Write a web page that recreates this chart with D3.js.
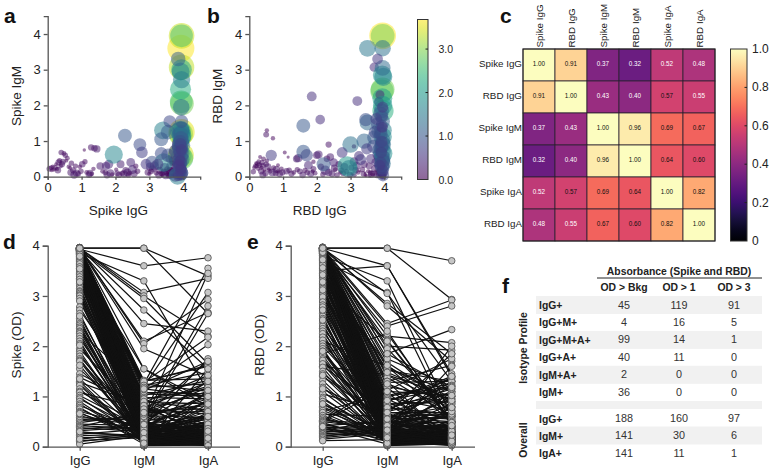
<!DOCTYPE html>
<html><head><meta charset="utf-8">
<script src="https://cdn.jsdelivr.net/npm/d3@7"></script>
<style>html,body{margin:0;padding:0;background:#fff}svg{display:block}text{font-family:"Liberation Sans",Arial,sans-serif;fill:#222}</style>
</head><body><svg id="c" width="772" height="475"></svg>
<script>
const spikeIgG=[3.95,3.95,3.93,3.85,3.95,3.95,3.92,3.95,3.92,3.94,
3.96,3.94,3.95,3.60,3.40,3.55,3.35,3.95,3.93,3.92,
3.95,3.93,3.90,3.96,3.94,3.92,3.95,3.91,3.96,3.93,
3.94,3.90,3.95,3.92,3.96,3.88,3.94,3.91,3.95,3.93,
3.89,3.96,3.92,3.94,3.87,3.95,3.91,3.93,3.96,3.90,
3.94,3.92,3.85,3.95,3.90,3.96,3.93,3.88,3.94,3.91,
3.95,3.92,3.96,3.89,3.93,3.94,3.91,3.95,3.87,3.92,
3.80,3.75,3.70,3.65,3.60,3.55,3.50,3.45,3.42,3.38,
3.35,3.30,3.25,3.20,3.15,3.10,3.08,3.05,3.02,3.00,
3.78,3.72,3.68,3.62,3.58,3.82,3.77,3.48,3.85,3.83,
2.95,2.90,2.78,2.72,2.65,2.55,2.50,2.45,2.42,2.38,
2.35,2.30,2.28,2.25,2.20,2.15,2.10,2.05,1.95,1.90,
1.85,1.80,1.75,1.72,1.70,1.55,1.45,1.38,1.30,1.28,
1.25,1.22,1.15,1.10,1.08,1.02,0.98,0.95,0.90,0.85,
0.82,0.78,0.75,0.70,0.68,0.62,0.58,0.55,0.52,0.48,
0.45,0.42,0.40,0.38,0.35,0.32,0.28,0.25,0.22,0.18,
0.12,0.10,0.05,2.60,2.02,1.62,1.35,0.66,0.30,0.15,
3.95,3.92,3.94,3.89,3.96,3.91,3.93,3.87,3.95,3.90,
3.94,3.92,3.96,3.88,3.93,3.95,3.84,3.91,3.86,3.94,
3.90,3.86,3.82,3.78,3.74,3.70,3.66,3.62,3.56,3.52,
3.47,3.43,3.38,3.33,3.28,3.93,3.88,3.84,3.80,3.76,
3.72,3.68,3.64,3.58,3.54,3.91,3.87,3.83,3.79,3.95];
const spikeIgM=[3.95,3.95,3.60,3.30,3.07,3.00,2.95,2.72,2.45,2.10,
2.05,1.95,1.55,1.55,1.30,1.25,1.05,1.25,1.20,1.28,
1.15,0.60,0.58,0.52,1.32,1.30,1.22,1.18,1.12,1.08,
1.02,0.98,0.95,0.92,0.88,0.85,0.82,0.78,0.75,0.72,
0.68,0.65,0.62,0.55,0.50,0.48,0.45,0.42,0.40,0.38,
0.35,0.33,0.30,0.28,0.26,0.24,0.22,0.20,0.18,0.16,
0.14,0.12,0.11,0.10,0.09,0.08,0.07,0.06,0.05,0.04,
0.95,0.72,0.45,0.30,0.18,0.60,0.12,0.25,0.40,0.08,
0.65,0.18,0.35,0.10,0.30,0.22,0.40,0.15,0.28,0.08,
0.85,0.20,0.38,0.08,0.50,0.15,0.05,0.05,0.03,0.02,
0.12,0.35,0.68,0.90,0.15,0.08,0.20,0.40,0.10,0.05,
0.12,0.18,1.15,0.08,0.10,0.35,0.05,0.10,0.62,0.06,
0.10,0.35,0.05,0.30,0.12,0.30,0.78,0.80,0.08,0.82,
0.10,0.06,0.12,0.42,0.75,0.35,0.15,0.28,0.08,0.10,
0.30,0.05,0.18,0.38,0.12,0.28,0.52,0.45,0.60,0.65,
0.42,0.35,0.68,0.30,0.45,0.40,0.22,0.35,0.25,0.20,
0.18,0.25,0.22,0.30,0.20,0.15,0.22,0.25,0.18,0.28,
0.30,0.21,0.13,0.09,0.26,0.06,0.17,0.11,0.03,0.15,
0.05,0.24,0.08,0.34,0.02,0.19,0.12,0.04,0.27,0.10,
0.04,0.09,0.03,0.13,0.06,0.18,0.02,0.11,0.05,0.22,
0.07,0.14,0.03,0.09,0.05,0.16,0.02,0.24,0.08,0.04,
0.12,0.06,0.20,0.03,0.10,0.35,0.28,0.44,0.16,0.07];
const spikeIgA=[3.40,2.65,3.76,1.10,3.35,2.20,1.65,1.55,2.30,2.67,
2.93,1.40,0.90,0.80,1.60,1.10,1.00,3.55,3.07,2.18,
2.03,3.45,2.80,2.65,1.35,1.62,1.48,1.25,1.70,1.05,
1.32,0.95,1.15,0.72,1.42,1.20,0.88,1.28,0.65,1.10,
0.82,1.18,0.58,1.00,0.75,1.30,0.62,0.90,0.48,1.08,
0.55,0.40,0.70,0.35,0.92,0.30,0.60,0.25,0.78,0.45,
0.50,0.22,0.85,0.18,1.12,0.32,0.15,0.68,0.28,0.42,
0.42,0.75,0.38,0.55,0.20,0.95,0.30,0.48,1.75,0.15,
0.85,0.25,0.62,0.12,0.45,0.28,0.90,0.18,0.35,0.10,
0.33,0.22,0.18,0.52,0.27,0.14,0.95,0.37,0.60,1.55,
0.20,0.60,0.70,0.85,0.16,0.25,0.42,0.40,0.12,0.15,
0.30,0.22,1.00,0.28,0.14,0.32,0.20,0.18,1.70,0.10,
0.30,0.42,0.25,0.35,0.16,0.30,0.28,0.22,0.12,0.20,
0.25,0.24,0.12,0.14,0.06,0.22,0.16,0.10,0.18,0.26,
0.14,0.30,0.20,0.15,0.24,0.10,0.12,0.08,0.15,0.12,
0.18,0.20,0.16,0.12,0.14,0.20,0.10,0.08,0.16,0.09,
0.08,0.12,0.18,0.14,0.09,0.12,0.10,0.08,0.22,0.10,
0.12,0.25,0.38,0.08,0.20,0.15,0.05,0.32,0.10,0.42,
0.28,0.07,0.16,0.60,0.03,0.45,0.22,0.12,0.18,0.06,
0.14,0.06,0.24,0.09,0.18,0.04,0.11,0.33,0.07,0.15,
0.02,0.20,0.05,0.12,0.27,0.08,0.16,0.03,0.22,0.10,
0.36,0.05,0.13,0.19,0.04,0.26,0.09,0.31,0.02,0.17];

const rbdIgG=[3.95,3.95,3.50,3.95,3.80,3.70,3.95,3.94,3.97,3.95,
3.93,3.94,3.95,3.96,3.20,1.85,2.10,1.60,3.45,3.50,
3.95,3.85,3.95,3.92,3.94,3.96,3.90,0.52,0.50,0.70,
3.00,2.35,2.90,2.95,2.20,1.60,1.70,0.65,3.40,3.25,
3.10,2.75,3.95,3.92,3.88,3.96,3.93,3.90,3.94,3.86,
3.95,3.91,3.96,3.88,3.93,3.84,3.95,3.90,3.94,3.97,
3.92,3.88,3.95,3.93,3.86,3.96,3.91,3.94,3.89,3.95,
3.92,3.85,3.96,3.93,3.90,3.95,3.88,3.94,3.91,3.96,
3.80,3.75,3.72,3.68,3.65,3.60,3.55,3.52,3.48,3.44,
3.40,3.35,3.30,3.22,3.18,3.15,3.10,3.05,3.02,2.98,
2.88,2.82,2.78,2.70,2.65,2.60,2.55,2.50,2.45,2.40,
2.35,2.30,2.25,2.18,2.12,2.05,2.00,1.95,1.90,1.88,
1.82,1.75,1.72,1.65,1.58,1.50,1.45,1.40,1.32,1.25,
1.18,1.10,1.05,0.98,0.95,0.90,0.85,0.80,0.78,0.72,
0.68,0.62,0.58,0.55,0.52,0.50,0.48,0.45,0.42,0.40,
0.38,0.36,0.35,0.32,0.30,0.28,0.26,0.25,0.22,0.20,
0.18,0.15,0.12,0.40,0.85,1.15,1.42,1.90,2.52,2.72,
3.93,3.90,3.95,3.87,3.92,3.96,3.85,3.91,3.94,3.89,
3.92,3.89,3.95,3.84,3.80,3.76,3.70,3.66,3.58,3.46,
3.38,3.28,3.12,3.93,3.88,3.82,3.78,3.74,3.62,3.56,
3.42,3.91,3.86,3.96,3.94,3.90,3.92,3.87,3.95,3.72];
const rbdIgM=[3.95,3.95,3.60,3.60,3.30,3.07,3.05,2.85,2.80,2.45,
2.40,2.20,2.00,1.85,2.12,2.25,1.60,1.43,1.60,1.52,
1.55,1.28,1.12,1.42,1.38,1.30,1.20,1.30,1.18,1.08,
0.90,0.90,0.30,0.22,0.35,0.70,0.60,0.60,1.00,0.58,
0.85,0.68,1.02,0.98,0.95,0.90,0.86,0.82,0.78,0.75,
0.72,0.68,0.65,0.62,0.58,0.55,0.52,0.50,0.47,0.44,
0.42,0.40,0.37,0.35,0.32,0.30,0.28,0.26,0.24,0.22,
0.20,0.18,0.16,0.15,0.13,0.12,0.10,0.08,0.06,0.04,
0.62,0.40,0.22,0.85,0.10,0.50,0.30,0.15,0.78,0.05,
0.35,0.20,0.48,0.12,0.30,0.18,0.42,0.08,0.25,0.05,
0.15,0.28,0.10,0.12,0.35,0.05,0.20,0.40,0.08,0.55,
0.12,0.50,0.18,0.06,0.28,0.62,0.60,0.10,0.22,0.15,
0.08,0.32,0.12,0.18,0.05,0.15,0.52,0.50,0.12,0.08,
0.18,0.15,0.68,0.12,0.22,0.08,0.15,0.20,0.10,0.25,
0.12,0.15,0.20,0.28,0.45,0.35,0.10,0.18,0.50,0.30,
0.40,0.25,0.15,0.55,0.32,0.42,0.22,0.36,0.30,0.38,
0.30,0.26,0.14,0.05,0.32,0.55,0.20,0.42,0.24,0.18,
0.11,0.07,0.03,0.14,0.17,0.02,0.09,0.26,0.05,0.19,
1.68,1.75,1.95,2.10,1.48,1.62,1.10,0.05,0.12,0.03,
0.08,0.15,0.04,0.06,0.02,0.10,0.04,0.16,0.07,0.03,
0.11,0.13,0.22,0.33,0.07,0.18,1.85,2.30,0.92,1.25];
const rbdIgA=[3.70,2.93,1.45,1.40,0.60,0.45,1.30,1.85,1.70,2.92,
2.80,2.07,1.92,2.33,0.50,0.50,0.48,1.00,0.90,1.30,
1.10,1.30,1.75,0.80,0.60,1.62,0.95,0.10,0.18,0.10,
1.40,0.20,2.00,1.60,1.00,1.00,0.80,0.65,1.20,0.50,
0.10,0.60,1.25,0.72,0.38,1.35,0.90,1.05,0.55,1.15,
1.38,0.68,1.85,0.40,1.10,0.58,1.30,0.30,1.22,0.95,
0.50,0.75,1.40,0.35,0.62,0.85,0.27,1.08,0.20,0.45,
0.32,0.15,0.70,0.24,0.10,0.52,0.18,0.38,0.12,0.78,
0.55,0.42,0.30,0.88,0.14,0.48,0.25,0.10,0.65,0.08,
0.28,0.16,0.62,0.12,0.35,0.22,0.40,0.06,0.18,0.20,
0.14,0.30,0.18,0.10,0.22,0.16,0.12,0.38,0.24,0.30,
0.28,0.22,0.48,0.15,0.20,0.35,0.30,0.12,0.18,0.09,
0.25,0.40,0.16,0.14,0.22,0.18,0.35,0.28,0.12,0.20,
0.16,0.22,0.08,0.20,0.12,0.24,0.10,0.26,0.18,0.14,
0.30,0.12,0.08,0.24,0.10,0.16,0.20,0.06,0.12,0.18,
0.14,0.10,0.20,0.08,0.16,0.12,0.09,0.15,0.11,0.07,
0.12,0.10,0.15,0.24,0.08,0.05,0.14,0.10,0.26,0.18,
0.05,0.09,0.33,0.20,0.07,0.15,0.42,0.11,0.28,0.04,
0.85,1.20,0.65,0.48,0.92,0.70,1.02,0.07,0.12,0.05,
0.17,0.03,0.09,0.21,0.06,0.13,0.19,0.04,0.26,0.10,
0.02,0.16,0.08,0.31,0.11,0.23,1.15,0.42,1.18,0.78];

const axisTicks=[0,1,2,3,4];
const colorTicks=[0,1,2,3];
const heatTicks=[0,0.2,0.4,0.6,0.8,1];
const isotypes=["IgG","IgM","IgA"];
const heatLabels=["Spike IgG","RBD IgG","Spike IgM","RBD IgM","Spike IgA","RBD IgA"];
const heatValues=[[1.00,0.91,0.37,0.32,0.52,0.48],
[0.91,1.00,0.43,0.40,0.57,0.55],
[0.37,0.43,1.00,0.96,0.69,0.67],
[0.32,0.40,0.96,1.00,0.64,0.60],
[0.52,0.57,0.69,0.64,1.00,0.82],
[0.48,0.55,0.67,0.60,0.82,1.00]];
const tableCols=["OD > Bkg","OD > 1","OD > 3"];
const profileRows=["IgG+","IgG+M+","IgG+M+A+","IgG+A+","IgM+A+","IgM+"];
const profileVals=[[45,119,91],[4,16,5],[99,14,1],[40,11,0],[2,0,0],[36,0,0]];
const overallRows=["IgG+","IgM+","IgA+"];
const overallVals=[[188,160,97],[141,30,6],[141,11,1]];

const svg=d3.select("#c");
const AX="#555";
function styleAxis(g,size){
  g.selectAll("path,line").attr("stroke",AX).attr("stroke-width",1.3);
  g.selectAll("text").attr("font-size",size).attr("fill","#222");
  g.select(".domain").attr("stroke",AX);
}
function txt(x,y,s,o={}){
  const t=svg.append("text").attr("x",x).attr("y",y).text(s)
    .attr("font-size",o.size||13).attr("text-anchor",o.anchor||"middle");
  if(o.bold)t.attr("font-weight","bold");
  if(o.fill)t.style("fill",o.fill);
  if(o.rot)t.attr("transform",`rotate(${o.rot} ${x} ${y})`);
  return t;
}
const colorB=d3.scaleSequential(d3.interpolateViridis).domain([0,3.7]);
const rB=d3.scaleSqrt().domain([0,3.76]).range([0,13.5]);
const layer=v=>v>2?0:v<0.6?1:2;
function bubble(xa,ya,za,x0,x1,xl,yl){
  const x=d3.scaleLinear().domain([0,4.5]).range([x0,x1]);
  const y=d3.scaleLinear().domain([0,4.5]).range([176.7,16.2]);
  const pts=d3.zip(xa,ya,za).sort((p,q)=>layer(p[2])-layer(q[2])||q[2]-p[2]);
  svg.append("g").selectAll("circle").data(pts).join("circle")
    .attr("cx",d=>x(d[0])).attr("cy",d=>y(d[1])).attr("r",d=>rB(d[2]))
    .attr("fill",d=>colorB(d[2])).attr("fill-opacity",0.52);
  svg.append("g").attr("transform","translate(0,176.7)").call(d3.axisBottom(x).tickValues(axisTicks).tickFormat(d3.format("d")).tickSize(3).tickPadding(3)).call(styleAxis,13);
  svg.append("g").attr("transform",`translate(${x0},0)`).call(d3.axisLeft(y).tickValues(axisTicks).tickFormat(d3.format("d")).tickSize(4).tickPadding(3)).call(styleAxis,13);
  txt((x(0)+x(4))/2+3,215,xl,{size:13.5});
  txt(x0-27,96,yl,{size:13.5,rot:-90});
}
bubble(spikeIgG,spikeIgM,spikeIgA,47.7,200.2,"Spike IgG","Spike IgM");
bubble(rbdIgG,rbdIgM,rbdIgA,249.3,401.2,"RBD IgG","RBD IgM");

/* colour bars */
function colorbar(id,x,w,top,bot,interp,dom,ticks,fmt,lx,size,op){
  const defs=svg.append("defs");
  const lg=defs.append("linearGradient").attr("id",id).attr("x1",0).attr("x2",0).attr("y1",1).attr("y2",0);
  d3.range(0,1.001,0.05).forEach(t=>lg.append("stop").attr("offset",t).attr("stop-color",interp(t)));
  svg.append("rect").attr("x",x).attr("y",top).attr("width",w).attr("height",bot-top).attr("fill",`url(#${id})`).attr("fill-opacity",op);
  svg.append("rect").attr("x",x).attr("y",top).attr("width",w).attr("height",bot-top).attr("fill","none").attr("stroke","#333").attr("stroke-width",1);
  const s=d3.scaleLinear().domain(dom).range([bot,top]);
  svg.append("g").selectAll("line").data(ticks.filter(v=>v>dom[0]&&v<dom[1])).join("line")
    .attr("x1",x+w-2.5).attr("x2",x+w).attr("y1",s).attr("y2",s).attr("stroke","#222");
  svg.append("g").selectAll("text").data(ticks).join("text").attr("x",lx).attr("y",d=>s(d)+4)
    .attr("font-size",size).text(fmt);
}
colorbar("vir",417.5,10.5,19.5,179.5,t=>d3.interpolateViridis(t),[0,3.68],colorTicks,d3.format(".1f"),438.5,10.5,0.6);
colorbar("mag",730.5,16.5,49,241,t=>d3.interpolateMagma(t),[0,1],heatTicks,d=>d===0?"0":d===1?"1.0":d3.format(".1f")(d),752,12,1);

/* heat map */
const hx=d3.scaleBand().domain(d3.range(6)).range([523,715]);
const hy=d3.scaleBand().domain(d3.range(6)).range([49,241]);
const cell=svg.append("g").selectAll("g").data(heatValues.flatMap((r,i)=>r.map((v,j)=>({i,j,v})))).join("g");
cell.append("rect").attr("x",d=>hx(d.j)).attr("y",d=>hy(d.i)).attr("width",hx.bandwidth()).attr("height",hy.bandwidth())
  .attr("fill",d=>d3.interpolateMagma(d.v)).attr("stroke","#2a2230").attr("stroke-width",0.8);
cell.append("text").attr("x",d=>hx(d.j)+hx.bandwidth()/2).attr("y",d=>hy(d.i)+hy.bandwidth()/2).attr("dy","0.1em")
  .attr("text-anchor","middle").attr("font-size",6.3).text(d=>d.v.toFixed(2)).style("fill",d=>d.v<0.56?"#fff":"#111");
svg.append("rect").attr("x",523).attr("y",49).attr("width",192).attr("height",192).attr("fill","none").attr("stroke","#222").attr("stroke-width",1);
heatLabels.forEach((l,i)=>{
  txt(522,hy(i)+hy.bandwidth()/2+1.5,l,{anchor:"end",size:9.8});
  txt(hx(i)+hx.bandwidth()/2+4,47.5,l,{anchor:"start",size:9.8,rot:-90});
});

/* paired profile plots */
function paired(id,a,b,c,x0,xEnd,cats,yl,ylx){
  const x=d3.scalePoint().domain(isotypes).range(cats);
  const y=d3.scaleLinear().domain([0,4]).range([446.7,245.7]);
  const rows=d3.zip(a,b,c);
  const line=d3.line().x((d,i)=>x(isotypes[i])).y(d=>y(d));
  svg.append("g").selectAll("path").data(rows).join("path").attr("d",line)
    .attr("fill","none").attr("stroke","#111").attr("stroke-width",1.2);
  isotypes.forEach((k,i)=>{
    svg.append("g").selectAll("circle").data(rows).join("circle")
      .attr("cx",x(k)).attr("cy",d=>y(d[i])).attr("r",3.3)
      .attr("fill","#c6c6c6").attr("stroke","#4a4a4a").attr("stroke-width",0.8);
  });
  const gx=svg.append("g").attr("transform","translate(0,446.7)").call(d3.axisBottom(x).tickSize(4).tickPadding(5));
  gx.select(".domain").attr("d",`M${x0},0.5H${xEnd}`);
  styleAxis(gx,13);
  svg.append("g").attr("transform",`translate(${x0},0)`).call(d3.axisLeft(y).tickValues(axisTicks).tickFormat(d3.format("d")).tickSize(5).tickPadding(3)).call(styleAxis,13);
  txt(ylx,345,yl,{size:13.5,rot:-90});
}
paired("d",spikeIgG,spikeIgM,spikeIgA,47.7,240,[79.7,208],"Spike (OD)",21);
paired("e",rbdIgG,rbdIgM,rbdIgA,290.7,475,[322.7,451.7],"RBD (OD)",264);

/* table */
const colX=d3.scalePoint().domain(tableCols).range([624,734]);
const rowY=d3.scaleLinear().domain([0,1]).range([305,322.45]);
const bands=[0,2,4];
svg.append("g").selectAll("rect").data(bands).join("rect").attr("x",536).attr("width",226).attr("y",i=>rowY(i)-9).attr("height",18).attr("fill","#f1f1f1");
svg.append("rect").attr("x",536).attr("width",226).attr("y",401).attr("height",8).attr("fill","#f1f1f1");
svg.append("rect").attr("x",536).attr("width",226).attr("y",426.5).attr("height",18).attr("fill","#f1f1f1");
txt(679,275,"Absorbance (Spike and RBD)",{size:10.4,bold:true});
svg.append("line").attr("x1",597).attr("x2",762).attr("y1",278).attr("y2",278).attr("stroke","#222").attr("stroke-width",1);
tableCols.forEach(c=>txt(colX(c),291,c,{size:10.4,bold:true}));
function tableRows(labels,vals,yf){
  labels.forEach((l,i)=>{
    txt(539,yf(i)+4,l,{anchor:"start",size:10.4,bold:true});
    tableCols.forEach((c,j)=>txt(colX(c),yf(i)+3.5,vals[i][j],{size:10.8,fill:"#333"}));
  });
}
tableRows(profileRows,profileVals,i=>rowY(i));
tableRows(overallRows,overallVals,i=>418.5+i*17.4);
txt(527,348,"Isotype Profile",{size:10.4,bold:true,rot:-90});
txt(527,440,"Overall",{size:10.4,bold:true,rot:-90});

/* panel letters */
[["a",4,23],["b",207,23],["c",500,23],["d",3,249],["e",247,249],["f",502,293]].forEach(p=>
  txt(p[1],p[2],p[0],{size:21,bold:true,anchor:"start",fill:"#111"}));
</script></body></html>
